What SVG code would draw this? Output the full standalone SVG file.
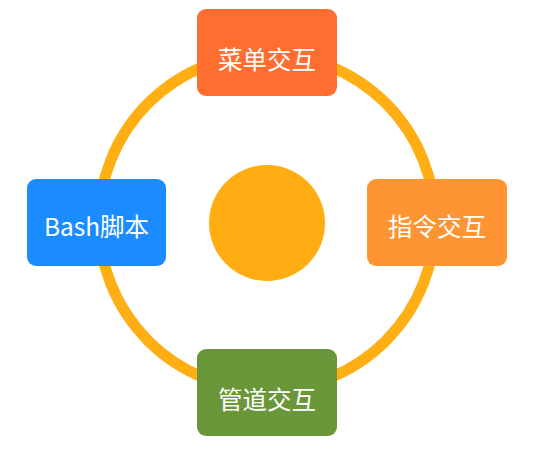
<svg xmlns="http://www.w3.org/2000/svg" width="540" height="454" viewBox="0 0 540 454">
<style>
.lbl{font-family:"Noto Sans CJK SC","Noto Sans",sans-serif;font-size:24.5px;fill:#fff;text-anchor:middle;}
.box{stroke:none;}
</style>
<rect width="540" height="454" fill="#fff"/>
<g id="connectors">
<circle cx="267" cy="222" r="168" fill="none" stroke="#FFAE14" stroke-width="11"/>
</g>
<g id="center"><circle cx="267" cy="223" r="58" fill="#FFAD13"/></g>
<g id="menu"><rect class="box" x="197" y="9" width="140" height="87" rx="9" fill="#FF6E30"/><text class="lbl" x="267" y="69">菜单交互</text></g>
<g id="bash"><rect class="box" x="27" y="179" width="139" height="87" rx="9" fill="#1A8CFF"/><text class="lbl" x="96.5" y="236">Bash脚本</text></g>
<g id="cmd"><rect class="box" x="367" y="179" width="140" height="87" rx="9" fill="#FF9433"/><text class="lbl" x="437" y="236">指令交互</text></g>
<g id="pipe"><rect class="box" x="197" y="349" width="140" height="87" rx="9" fill="#6A963A"/><text class="lbl" x="267" y="409">管道交互</text></g>
</svg>
